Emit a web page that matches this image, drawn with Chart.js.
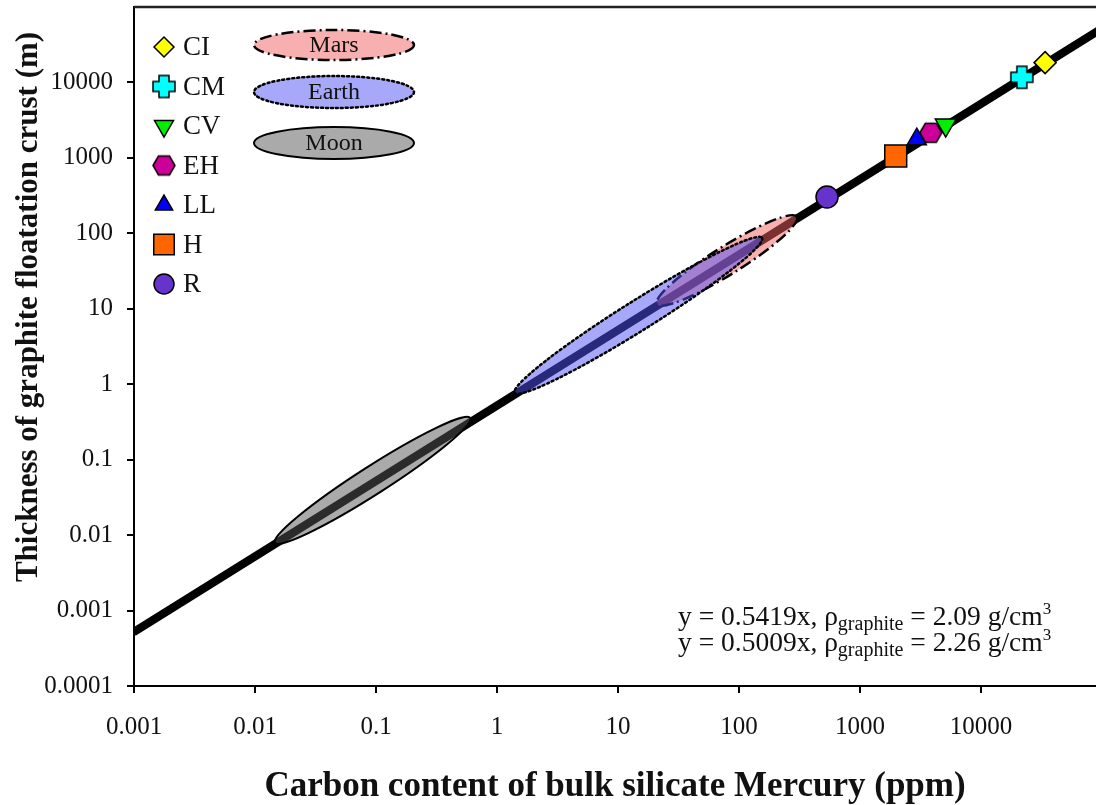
<!DOCTYPE html>
<html>
<head>
<meta charset="utf-8">
<script src="https://cdn.jsdelivr.net/npm/chart.js@4.4.1/dist/chart.umd.min.js"></script>
<style>
html, body { margin: 0; padding: 0; background: #fff; }
#wrap { width: 1096px; height: 805px; position: relative; }
</style>
</head>
<body>
<div id="wrap"><canvas id="chart"></canvas></div>
<script>
// axis ticks
const xTicks = [0.001, 0.01, 0.1, 1, 10, 100, 1000, 10000];
const xTickLabels = ['0.001', '0.01', '0.1', '1', '10', '100', '1000', '10000'];
const yTicks = [0.0001, 0.001, 0.01, 0.1, 1, 10, 100, 1000, 10000];
const yTickLabels = ['0.0001', '0.001', '0.01', '0.1', '1', '10', '100', '1000', '10000'];

// chondrite groups: carbon (ppm) and crust thickness (m)
const groups = ['CI', 'CM', 'CV', 'EH', 'LL', 'H', 'R'];
const groupCarbon = [33800, 21700, 5100, 3840, 2940, 1970, 533];
const groupThick = [18300, 11700, 2720, 2150, 1770, 1060, 303];

// fit lines
const fitText = ['y = 0.5419x', 'y = 0.5009x'];
const fitRho = ['2.09', '2.26'];
const fitCarbon = [0.001, 100000];
const fitThick1 = [0.0005419, 54190];
const fitThick2 = [0.0005009, 50090];

// ranges for the planetary bodies
const bodies = ['Mars', 'Earth', 'Moon'];
const bodyCarbonMin = [21, 1.4, 0.0146];
const bodyCarbonMax = [300, 155, 0.6];
const bodyThickMin = [11.5, 0.77, 0.0079];
const bodyThickMax = [166, 87, 0.358];

const xTitle = 'Carbon content of bulk silicate Mercury (ppm)';
const yTitle = 'Thickness of graphite floatation crust (m)';

const serif = "'Liberation Serif', 'Times New Roman', serif";

function plusImage(color) {
	const c = document.createElement('canvas');
	c.width = 26; c.height = 26;
	const g = c.getContext('2d');
	const s = 13, a = 11, t = 5;
	g.beginPath();
	g.moveTo(s - t, s - a); g.lineTo(s + t, s - a); g.lineTo(s + t, s - t);
	g.lineTo(s + a, s - t); g.lineTo(s + a, s + t); g.lineTo(s + t, s + t);
	g.lineTo(s + t, s + a); g.lineTo(s - t, s + a); g.lineTo(s - t, s + t);
	g.lineTo(s - a, s + t); g.lineTo(s - a, s - t); g.lineTo(s - t, s - t);
	g.closePath();
	g.fillStyle = color; g.fill();
	g.lineWidth = 1.5; g.strokeStyle = '#000'; g.stroke();
	return c;
}
function hexImage(color) {
	const c = document.createElement('canvas');
	c.width = 26; c.height = 24;
	const g = c.getContext('2d');
	const cx = 13, cy = 12;
	g.beginPath();
	g.moveTo(cx - 11, cy); g.lineTo(cx - 5.5, cy - 9.5); g.lineTo(cx + 5.5, cy - 9.5);
	g.lineTo(cx + 11, cy); g.lineTo(cx + 5.5, cy + 9.5); g.lineTo(cx - 5.5, cy + 9.5);
	g.closePath();
	g.fillStyle = color; g.fill();
	g.lineWidth = 1.5; g.strokeStyle = '#000'; g.stroke();
	return c;
}

const groupColors = ['#ffff00', '#00ffff', '#00ee00', '#cc0099', '#0000ff', '#ff6600', '#6633cc'];
const groupStyles = ['rectRot', plusImage('#00ffff'), 'triangle', hexImage('#cc0099'), 'triangle', 'rect', 'circle'];
const groupRadius = [11, 12, 12, 12, 11, 15.5, 11];
const groupRotation = [0, 0, 180, 0, 0, 0, 0];

const bodyFill = ['rgba(241,95,95,0.5)', 'rgba(81,81,245,0.5)', 'rgba(85,85,85,0.5)'];
const bodyDash = [[12, 4, 2, 4], [2, 3], []];
const bodyHalf = [14, 15, 14];

function drawBodyEllipse(ctx, i, cx, cy, rx, ry, ang) {
	ctx.save();
	ctx.beginPath();
	ctx.ellipse(cx, cy, rx, ry, ang, 0, Math.PI * 2);
	ctx.fillStyle = bodyFill[i];
	ctx.fill();
	ctx.setLineDash(bodyDash[i]);
	ctx.lineCap = i === 1 ? 'round' : 'butt';
	ctx.lineWidth = i === 2 ? 2 : 2.5;
	ctx.strokeStyle = '#000';
	ctx.stroke();
	ctx.restore();
}

const rangePlugin = {
	id: 'ranges',
	afterDatasetDraw(chart, args) {
		if (args.index !== 1) return;
		const ctx = chart.ctx, a = chart.chartArea;
		const xs = chart.scales.x, ys = chart.scales.y;
		ctx.save();
		ctx.beginPath();
		ctx.rect(a.left, a.top, a.right - a.left, a.bottom - a.top);
		ctx.clip();
		for (let i = 0; i < bodies.length; i++) {
			const x1 = xs.getPixelForValue(bodyCarbonMin[i]), y1 = ys.getPixelForValue(bodyThickMin[i]);
			const x2 = xs.getPixelForValue(bodyCarbonMax[i]), y2 = ys.getPixelForValue(bodyThickMax[i]);
			const rx = Math.hypot(x2 - x1, y2 - y1) / 2;
			drawBodyEllipse(ctx, i, (x1 + x2) / 2, (y1 + y2) / 2, rx, bodyHalf[i], Math.atan2(y2 - y1, x2 - x1));
		}
		ctx.restore();
	}
};

function drawEquation(ctx, x, y, i) {
	let px = x;
	function part(t, size, dy) {
		ctx.font = size + 'px ' + serif;
		ctx.fillText(t, px, y + dy);
		px += ctx.measureText(t).width;
	}
	part(fitText[i] + ', \u03c1', 27.5, 0);
	part('graphite', 20, 5);
	part(' = ' + fitRho[i] + ' g/cm', 27.5, 0);
	part('3', 17, -11);
}

const legendPlugin = {
	id: 'legendBox',
	afterDraw(chart) {
		const ctx = chart.ctx, a = chart.chartArea;
		ctx.save();
		// top frame line
		ctx.strokeStyle = '#222';
		ctx.lineWidth = 2.5;
		ctx.beginPath();
		ctx.moveTo(a.left, a.top);
		ctx.lineTo(a.right, a.top);
		ctx.stroke();

		// y title, sits a bit above the middle of the axis
		ctx.save();
		ctx.translate(29, a.top + 300);
		ctx.rotate(-Math.PI / 2);
		ctx.font = 'bold 31px ' + serif;
		ctx.fillStyle = '#111';
		ctx.textAlign = 'center';
		ctx.textBaseline = 'middle';
		ctx.fillText(yTitle, 0, 0);
		ctx.restore();

		// group legend
		ctx.textBaseline = 'middle';
		ctx.textAlign = 'left';
		for (let i = 0; i < groups.length; i++) {
			const mx = a.left + 30, my = a.top + 40 + i * 39.5;
			ctx.fillStyle = groupColors[i];
			ctx.strokeStyle = '#000';
			ctx.lineWidth = 1.5;
			Chart.helpers.drawPoint(ctx, {
				pointStyle: groupStyles[i], radius: groupRadius[i] - 1,
				rotation: groupRotation[i], borderWidth: 1.5
			}, mx, my);
			ctx.fillStyle = '#111';
			ctx.font = '27px ' + serif;
			ctx.fillText(groups[i], mx + 19, my + 1);
		}

		// body legend
		const ey = [38, 85, 136], ery = [15, 16, 16];
		for (let i = 0; i < bodies.length; i++) {
			const cx = a.left + 200, cy = a.top + ey[i];
			drawBodyEllipse(ctx, i, cx, cy, 80, ery[i], 0);
			ctx.fillStyle = '#111';
			ctx.font = '24px ' + serif;
			ctx.textAlign = 'center';
			ctx.fillText(bodies[i], cx, cy + 1);
		}

		// equations
		ctx.textAlign = 'left';
		ctx.textBaseline = 'alphabetic';
		ctx.fillStyle = '#111';
		drawEquation(ctx, a.left + 544, a.top + 618, 0);
		drawEquation(ctx, a.left + 544, a.top + 644, 1);
		ctx.restore();
	}
};

function mercuryChart(id) {
	const markers = {
		label: 'groups',
		order: 0,
		data: groups.map((g, i) => ({x: groupCarbon[i], y: groupThick[i]})),
		pointStyle: groupStyles,
		pointRadius: groupRadius,
		rotation: groupRotation,
		backgroundColor: groupColors,
		borderColor: '#000',
		borderWidth: 1.5
	};
	const line1 = {
		label: fitText[0],
		order: 1,
		data: fitCarbon.map((c, i) => ({x: c, y: fitThick1[i]})),
		showLine: true,
		pointRadius: 0,
		borderColor: '#000',
		borderWidth: 6
	};
	const line2 = {
		label: fitText[1],
		order: 1,
		data: fitCarbon.map((c, i) => ({x: c, y: fitThick2[i]})),
		showLine: true,
		pointRadius: 0,
		borderColor: '#000',
		borderWidth: 6
	};
	const config = {
		type: 'scatter',
		data: {datasets: [markers, line1, line2]},
		plugins: [rangePlugin, legendPlugin],
		options: {
			responsive: true,
			maintainAspectRatio: false,
			animation: false,
			events: [],
			layout: {autoPadding: false, padding: {top: 7, right: 0, left: 0, bottom: 0}},
			plugins: {legend: {display: false}, tooltip: {enabled: false}},
			scales: {
				x: {
					type: 'logarithmic',
					min: 0.001,
					max: 89000,
					afterBuildTicks: s => { s.ticks = xTicks.map(v => ({value: v})); },
					afterFit: s => { s.height = 119; s.paddingLeft = 0; s.paddingRight = 0; },
					ticks: {
						callback: (v, i) => xTickLabels[i],
						font: {family: serif, size: 25},
						color: '#111',
						padding: 19,
						maxRotation: 0,
						autoSkip: false
					},
					grid: {drawOnChartArea: false, tickLength: 7, color: '#000', lineWidth: 2},
					border: {color: '#000', width: 2},
					title: {
						display: true,
						text: xTitle,
						font: {family: serif, size: 35, weight: 'bold', lineHeight: 1},
						color: '#111',
						padding: {top: 0, bottom: 1}
					}
				},
				y: {
					type: 'logarithmic',
					min: 0.0001,
					max: 100000,
					afterBuildTicks: s => { s.ticks = yTicks.map(v => ({value: v})); },
					afterFit: s => { s.width = 134; s.paddingTop = 0; s.paddingBottom = 0; },
					ticks: {
						callback: (v, i) => yTickLabels[i],
						font: {family: serif, size: 25},
						color: '#111',
						padding: 14,
						autoSkip: false
					},
					grid: {drawOnChartArea: false, tickLength: 7, color: '#000', lineWidth: 2},
					border: {color: '#000', width: 2}
				}
			}
		}
	};
	new Chart(document.getElementById(id).getContext('2d'), config);
}

mercuryChart('chart');
</script>
</body>
</html>
